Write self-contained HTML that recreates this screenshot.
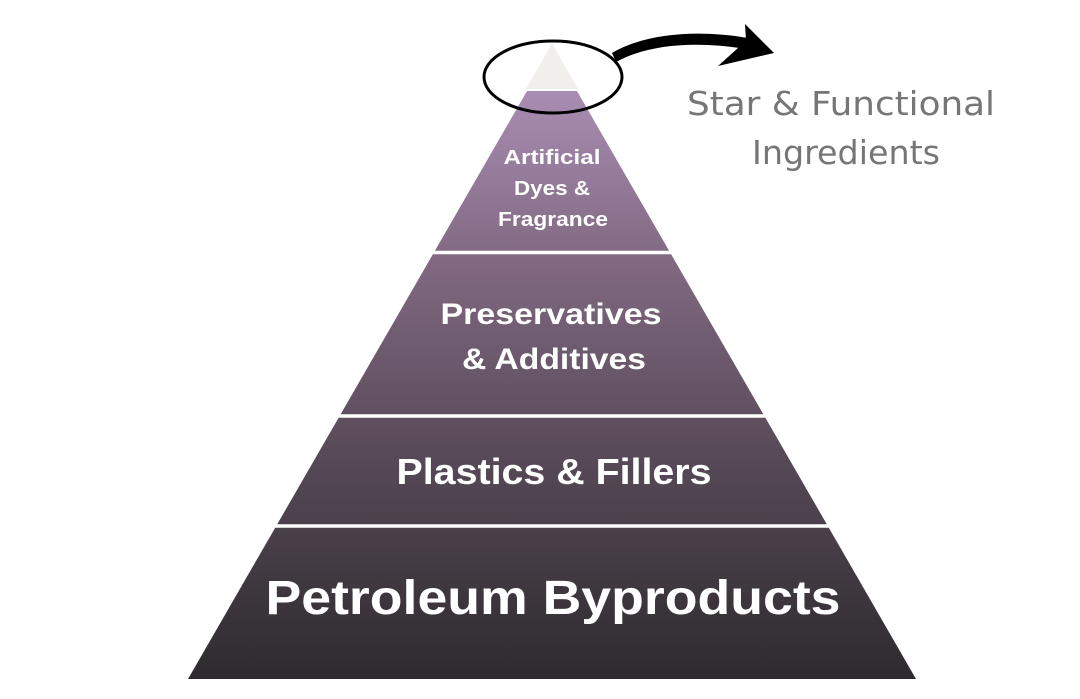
<!DOCTYPE html>
<html><head><meta charset="utf-8"><style>
html,body{margin:0;padding:0;background:#fff;}
svg{display:block}
</style></head><body>
<svg width="1080" height="699" viewBox="0 0 1080 699" xmlns="http://www.w3.org/2000/svg">
<defs>
<linearGradient id="g" x1="0" y1="91" x2="0" y2="679" gradientUnits="userSpaceOnUse">
<stop offset="0" stop-color="#a98db2"/>
<stop offset="0.3" stop-color="#7f6880"/>
<stop offset="0.6" stop-color="#5a4b5a"/>
<stop offset="1" stop-color="#2d2b2d"/>
</linearGradient>
</defs>
<polygon points="552,43 578,89 526,89" fill="#f1efeb"/>
<polygon points="527,91 577,91 916,679 188,679" fill="url(#g)"/>
<g stroke="#fff" stroke-width="3.5">
<line x1="400" y1="252.5" x2="720" y2="252.5"/>
<line x1="300" y1="416" x2="800" y2="416"/>
<line x1="250" y1="526" x2="850" y2="526"/>
</g>
<ellipse cx="553" cy="77" rx="69" ry="36" fill="none" stroke="#000" stroke-width="3"/>
<path d="M612,53 C640,36 690,28 748,38 L746,49 C690,40 645,46 616,62 Z" fill="#000"/>
<path d="M745,24 L774,53 L718,66 L738,48 L746,40 Z" fill="#000"/>
<g font-family="'Liberation Sans',sans-serif" font-weight="bold" fill="#fff" text-anchor="middle" lengthAdjust="spacingAndGlyphs">
<text x="552" y="164" font-size="20" textLength="97" lengthAdjust="spacingAndGlyphs">Artificial</text>
<text x="552" y="195" font-size="20" textLength="76" lengthAdjust="spacingAndGlyphs">Dyes &amp;</text>
<text x="553" y="226" font-size="20" textLength="110" lengthAdjust="spacingAndGlyphs">Fragrance</text>
<text x="551" y="324" font-size="30" textLength="221" lengthAdjust="spacingAndGlyphs">Preservatives</text>
<text x="554" y="369" font-size="30" textLength="184" lengthAdjust="spacingAndGlyphs">&amp; Additives</text>
<text x="554" y="484" font-size="36" textLength="315" lengthAdjust="spacingAndGlyphs">Plastics &amp; Fillers</text>
<text x="553" y="614" font-size="48" textLength="575" lengthAdjust="spacingAndGlyphs">Petroleum Byproducts</text>
</g>
<g font-family="'DejaVu Sans',sans-serif" fill="#767676" text-anchor="middle" font-size="33">
<text x="841" y="115" textLength="308" lengthAdjust="spacingAndGlyphs">Star &amp; Functional</text>
<text x="846" y="164" textLength="188" lengthAdjust="spacingAndGlyphs">Ingredients</text>
</g>
</svg>
</body></html>
